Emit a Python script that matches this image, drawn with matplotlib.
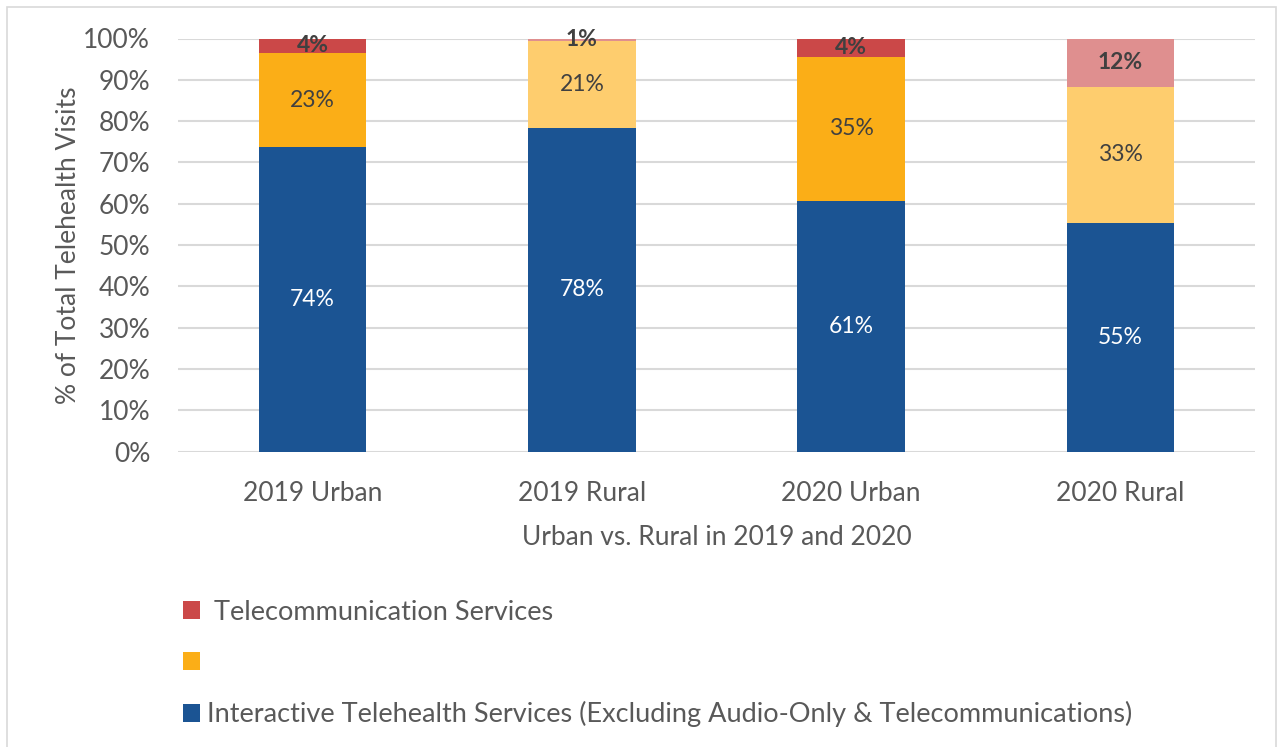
import numpy as np
import matplotlib
matplotlib.use("Agg")
import matplotlib.pyplot as plt
from matplotlib.patches import Patch, Rectangle

BLUE = "#1B5493"
ORANGE = "#FBAE17"
ORANGE_LT = "#FECD6E"
RED = "#CB4848"
RED_LT = "#DF8F8F"
GRID = "#D9D9D9"
TXT = "#595959"
LBL = "#404040"

plt.rcParams["font.family"] = ["Lato", "DejaVu Sans"]

categories = ["2019 Urban", "2019 Rural", "2020 Urban", "2020 Rural"]
interactive = [73.7, 78.3, 60.7, 55.3]
audio_only = [22.8, 21.2, 34.9, 33.0]
telecom = [3.5, 0.6, 4.4, 11.7]

orange_cols = [ORANGE, ORANGE_LT, ORANGE, ORANGE_LT]
red_cols = [RED, RED_LT, RED, RED_LT]

legend_labels = [" Telecommunication Services", "",
                 "Interactive Telehealth Services (Excluding Audio-Only & Telecommunications)"]

fig = plt.figure(figsize=(12.83, 7.47), dpi=100)
fig.patch.set_facecolor("white")
fig.add_artist(Rectangle((7 / 1283, -0.02), 1 - 14 / 1283, 1.02 - 7 / 747,
                         transform=fig.transFigure, fill=False,
                         edgecolor="#D9D9D9", linewidth=1.2))

ax = fig.add_axes([178 / 1283, 1 - 451.5 / 747, (1255 - 178) / 1283, (451.5 - 38.5) / 747])

x = np.arange(len(categories))
w = 0.4
ax.bar(x, interactive, w, color=BLUE, zorder=3)
ax.bar(x, audio_only, w, bottom=interactive, color=orange_cols, zorder=3)
bottom3 = np.array(interactive) + np.array(audio_only)
ax.bar(x, telecom, w, bottom=bottom3, color=red_cols, zorder=3)

for i in range(len(categories)):
    ax.text(x[i], interactive[i] / 2, f"{interactive[i]:.0f}%", ha="center", va="center",
            color="white", fontsize=16.5)
    ax.text(x[i], interactive[i] + audio_only[i] / 2, f"{audio_only[i]:.0f}%", ha="center",
            va="center", color=LBL, fontsize=16.5)
    ax.text(x[i], bottom3[i] + telecom[i] / 2, f"{telecom[i]:.0f}%", ha="center",
            va="center", color=LBL, fontsize=16.5, fontweight="bold")

ax.set_xlim(-0.5, 3.5)
ax.set_ylim(0, 100)
ax.set_yticks(np.arange(0, 101, 10))
ax.set_yticklabels([f"{v}%" for v in range(0, 101, 10)])
ax.set_xticks(x)
ax.set_xticklabels(categories)
ax.tick_params(axis="both", length=0, labelsize=19, colors=TXT)
ax.tick_params(axis="x", pad=21)
ax.tick_params(axis="y", pad=20)
ax.grid(axis="y", color=GRID, linewidth=1.5, zorder=0)
for s in ax.spines.values():
    s.set_visible(False)

ax.set_ylabel("% of Total Telehealth Visits", fontsize=19, color=TXT, labelpad=2)
ax.set_xlabel("Urban vs. Rural in 2019 and 2020", fontsize=19, color=TXT, labelpad=14)

handles = [Patch(facecolor=RED), Patch(facecolor=ORANGE), Patch(facecolor=BLUE)]
fig.legend(handles, legend_labels, loc="upper left",
           bbox_to_anchor=(172 / 1283, 1 - 589 / 747), frameon=False,
           fontsize=19.5, labelcolor=TXT, handlelength=0.63, handleheight=0.63,
           handletextpad=0.28, labelspacing=0.95, borderaxespad=0)

fig.savefig("out.png", dpi=100)
